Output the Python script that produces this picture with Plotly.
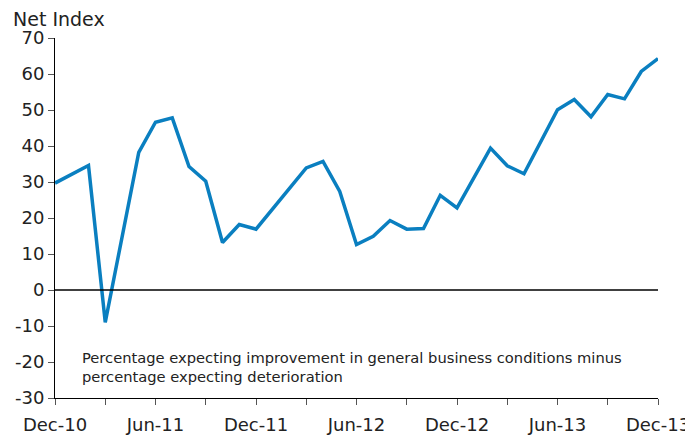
import plotly.graph_objects as go

# monthly labels Dec-10 .. Dec-13
months = ["Dec-10", "Jan-11", "Feb-11", "Mar-11", "Apr-11", "May-11", "Jun-11",
          "Jul-11", "Aug-11", "Sep-11", "Oct-11", "Nov-11", "Dec-11",
          "Jan-12", "Feb-12", "Mar-12", "Apr-12", "May-12", "Jun-12",
          "Jul-12", "Aug-12", "Sep-12", "Oct-12", "Nov-12", "Dec-12",
          "Jan-13", "Feb-13", "Mar-13", "Apr-13", "May-13", "Jun-13",
          "Jul-13", "Aug-13", "Sep-13", "Oct-13", "Nov-13", "Dec-13"]

# net index (None = no survey that month)
net_index = [29.7, None, 34.6, -9.0, None, 38.2, 46.6,
             47.8, 34.3, 30.2, 13.2, 18.2, 16.9,
             None, None, 33.9, 35.7, 27.4, 12.6,
             14.9, 19.3, 16.9, 17.1, 26.3, 22.8,
             None, 39.4, 34.5, 32.3, None, 50.1,
             52.9, 48.1, 54.3, 53.1, 60.7, 64.3]

y_ticks = [-30, -20, -10, 0, 10, 20, 30, 40, 50, 60, 70]
y_tick_text = [str(v) for v in y_ticks]   # plain hyphen, not unicode minus

tick_months = months[::3]
tick_text = [m if i % 2 == 0 else "" for i, m in enumerate(tick_months)]

font_main = "DejaVu Sans"

fig = go.Figure()

fig.add_trace(go.Scatter(
    x=months, y=net_index,
    mode="lines", connectgaps=True,
    line=dict(color="#0A7FC0", width=3.5),
    showlegend=False,
))

# zero line
fig.add_hline(y=0, line=dict(color="black", width=1.5))

fig.add_annotation(
    text="Percentage expecting improvement in general business conditions minus<br>percentage expecting deterioration",
    xref="paper", yref="paper", x=0.041, y=0.086,
    xanchor="left", yanchor="middle", align="left", showarrow=False,
    font=dict(family=font_main, size=14.7, color="#222222"),
)

fig.add_annotation(
    text="Net Index", xref="paper", yref="paper", x=-0.073, y=1.052,
    xanchor="left", yanchor="middle", showarrow=False,
    font=dict(family=font_main, size=19, color="#222222"),
)

fig.update_xaxes(
    type="category", range=[0, len(months) - 1],
    tickmode="array", tickvals=tick_months, ticktext=tick_text,
    ticks="outside", ticklen=6, tickcolor="#555555", tickwidth=1,
    ticklabelstandoff=4,
    showline=True, linecolor="black", linewidth=1,
    showgrid=False, zeroline=False, automargin=False,
    tickfont=dict(family=font_main, size=18, color="#222222"),
)
fig.update_yaxes(
    range=[-30, 70], tickmode="array", tickvals=y_ticks, ticktext=y_tick_text,
    ticks="outside", ticklen=6, tickcolor="#555555", tickwidth=1,
    showline=True, linecolor="black", linewidth=1,
    showgrid=False, zeroline=False, automargin=False,
    tickfont=dict(family=font_main, size=18, color="#222222"),
)

# page body adds an 8px offset, so the figure is sized to fit the window
fig.update_layout(
    width=685, height=428,
    margin=dict(l=47, r=35, t=30, b=38),
    plot_bgcolor="white", paper_bgcolor="white",
)

fig.write_html("out.html")
